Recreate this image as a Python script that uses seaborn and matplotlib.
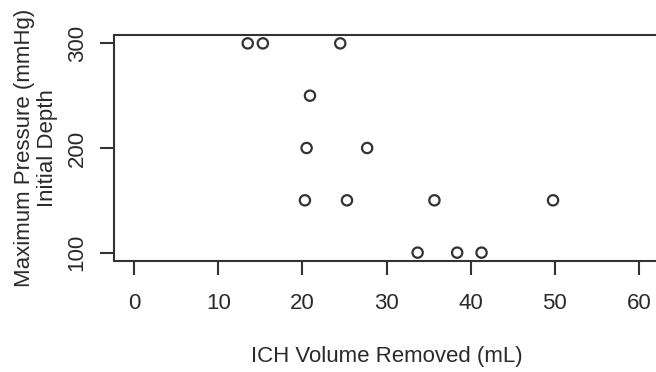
import pandas as pd
import seaborn as sns
import matplotlib.pyplot as plt

# Values
ich_volume = [13.5, 15.3, 24.5, 20.9, 20.5, 27.7, 20.3, 25.3, 35.7, 49.8, 33.7, 38.4, 41.3]
max_pressure = [300, 300, 300, 250, 200, 200, 150, 150, 150, 150, 100, 100, 100]
x_ticks = [0, 10, 20, 30, 40, 50, 60]
y_ticks = [100, 200, 300]

df = pd.DataFrame({'volume': ich_volume, 'pressure': max_pressure})

sns.set_style('white')
plt.rcParams['font.family'] = ['Liberation Sans', 'DejaVu Sans']
text_col = '#2a2a2a'

fig = plt.figure(figsize=(6.56, 3.72), dpi=100)
ax = fig.add_axes([114 / 656, 111 / 372, 545 / 656, 226 / 372])

sns.scatterplot(data=df, x='volume', y='pressure', ax=ax, marker='o',
                s=55, facecolor='none', edgecolor='#333333', linewidth=1.6)

ax.set_xlim(-2.4, 62.4)
ax.set_ylim(92, 308)
ax.set_xticks(x_ticks)
ax.set_yticks(y_ticks)
ax.set_yticklabels([str(v) for v in y_ticks], rotation=90, va='center')

for s in ax.spines.values():
    s.set_visible(True)
    s.set_color('#333333')
    s.set_linewidth(1.5)

ax.tick_params(axis='both', direction='out', length=10, width=1.5,
               bottom=True, left=True, color='#333333',
               labelsize=16, labelcolor=text_col)
ax.tick_params(axis='x', pad=13)
ax.tick_params(axis='y', pad=9)

ax.set_xlabel('ICH Volume Removed (mL)', fontsize=16, color=text_col, labelpad=23)
ax.set_ylabel('Maximum Pressure (mmHg)\nInitial Depth', fontsize=16,
              color=text_col, labelpad=6, linespacing=1.15)

fig.savefig('out.png', dpi=100)
